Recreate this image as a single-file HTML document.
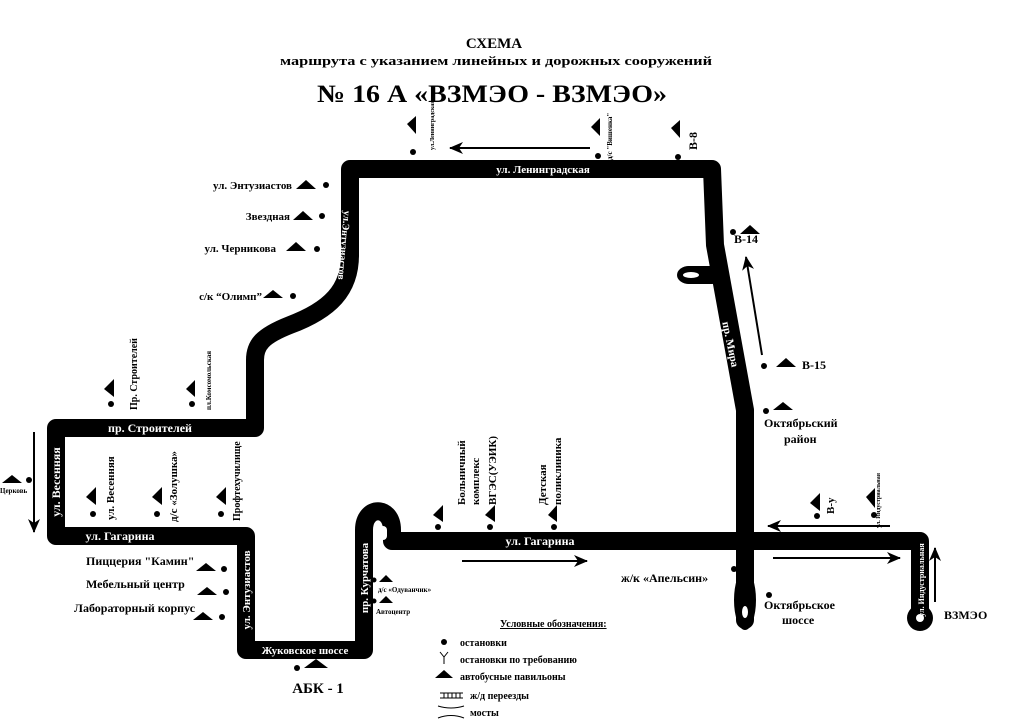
<!DOCTYPE html>
<html><head><meta charset="utf-8"><style>
html,body{margin:0;padding:0;background:#fff;}
svg{display:block;}
text{font-family:"Liberation Serif",serif;font-weight:bold;}
</style></head><body>
<svg width="1024" height="724" viewBox="0 0 1024 724" xmlns="http://www.w3.org/2000/svg" font-size="12">
<defs>
<marker id="ah2" markerWidth="14" markerHeight="12" refX="13" refY="6" orient="auto" markerUnits="userSpaceOnUse"><path d="M0,0 L14,6 L0,12 L4,6 Z" fill="#000"/></marker>
</defs>
<text x="494" y="48" font-size="15" text-anchor="middle">СХЕМА</text>
<text x="496" y="65" font-size="13" text-anchor="middle" textLength="432" lengthAdjust="spacingAndGlyphs">маршрута с указанием линейных и дорожных сооружений</text>
<text x="492" y="102" font-size="25" text-anchor="middle" textLength="350" lengthAdjust="spacingAndGlyphs">№ 16 А «ВЗМЭО - ВЗМЭО»</text>

<g fill="none" stroke="#000" stroke-width="18" stroke-linejoin="round" stroke-linecap="round">
<path d="M350,255 L350,169 L712,169 L715,245 L745,410 L745,620"/>
<path d="M350,255 C350,290 330,310 290,325 C262,336 255,345 255,360 L255,428 L56,428 L56,536 L246,536 L246,650 L364,650 L364,530 C364,505 392,505 392,530 L392,541 L920,541 L920,612"/>
<path d="M712,275 L690,275"/>
</g>
<ellipse cx="689" cy="275" rx="12" ry="9" fill="#000"/>
<ellipse cx="691" cy="275" rx="8" ry="3" fill="#fff"/>
<rect x="379" y="526" width="8" height="14" rx="4" fill="#fff"/>
<ellipse cx="745" cy="600" rx="11" ry="30" fill="#000"/>
<ellipse cx="745" cy="612" rx="3" ry="6" fill="#fff"/>
<circle cx="920" cy="618" r="13" fill="#000"/>
<circle cx="920" cy="618" r="4" fill="#fff"/>

<g fill="#fff">
<text x="543" y="173" text-anchor="middle" font-size="11">ул. Ленинградская</text>
<text x="150" y="432" text-anchor="middle">пр. Строителей</text>
<text x="120" y="540" text-anchor="middle">ул. Гагарина</text>
<text x="540" y="545" text-anchor="middle">ул. Гагарина</text>
<text x="305" y="654" text-anchor="middle" font-size="11">Жуковское шоссе</text>
<text transform="translate(60,482) rotate(-90)" text-anchor="middle">ул. Весенняя</text>
<text transform="translate(250,590) rotate(-90)" text-anchor="middle" font-size="11">ул. Энтузиастов</text>
<text transform="translate(368,578) rotate(-90)" text-anchor="middle" font-size="11">пр. Курчатова</text>
<text transform="translate(341,245) rotate(95)" text-anchor="middle" font-size="10">ул.Энтузиастов</text>
<text transform="translate(727,345) rotate(78)" text-anchor="middle" font-size="11">пр. Мира</text>
<text transform="translate(924,580) rotate(-90)" text-anchor="middle" font-size="8">ул. Индустриальная</text>
</g>

<g stroke="#000" stroke-width="2" fill="none">
<line x1="590" y1="148" x2="450" y2="148" marker-end="url(#ah2)"/>
<line x1="762" y1="355" x2="746" y2="257" marker-end="url(#ah2)"/>
<line x1="462" y1="561" x2="587" y2="561" marker-end="url(#ah2)"/>
<line x1="890" y1="526" x2="768" y2="526" marker-end="url(#ah2)"/>
<line x1="773" y1="558" x2="900" y2="558" marker-end="url(#ah2)"/>
<line x1="935" y1="602" x2="935" y2="548" marker-end="url(#ah2)"/>
<line x1="34" y1="432" x2="34" y2="532" marker-end="url(#ah2)"/>
</g>

<g fill="#000">
<circle cx="413" cy="152" r="3"/><path d="M407,124 L416,116 L416,134 Z"/>
<circle cx="598" cy="156" r="3"/><path d="M591,127 L600,118 L600,136 Z"/>
<circle cx="678" cy="157" r="3"/><path d="M671,128 L680,120 L680,138 Z"/>
<path d="M296,189 L306,180 L316,189 Z"/><circle cx="326" cy="185" r="3"/>
<path d="M293,220 L303,211 L313,220 Z"/><circle cx="322" cy="216" r="3"/>
<path d="M286,251 L296,242 L306,251 Z"/><circle cx="317" cy="249" r="3"/>
<path d="M263,298 L273,290 L283,298 Z"/><circle cx="293" cy="296" r="3"/>
<path d="M104,389 L114,379 L114,397 Z"/><circle cx="111" cy="404" r="3"/>
<path d="M186,389 L195,380 L195,397 Z"/><circle cx="192" cy="404" r="3"/>
<path d="M86,497 L96,487 L96,505 Z"/><circle cx="93" cy="514" r="3"/>
<path d="M152,497 L162,487 L162,505 Z"/><circle cx="157" cy="514" r="3"/>
<path d="M216,497 L226,487 L226,505 Z"/><circle cx="221" cy="514" r="3"/>
<path d="M2,483 L12,475 L22,483 Z"/><circle cx="29" cy="480" r="3"/>
<path d="M196,571 L206,563 L216,571 Z"/><circle cx="224" cy="569" r="3"/>
<path d="M197,595 L207,587 L217,595 Z"/><circle cx="226" cy="592" r="3"/>
<path d="M193,620 L203,612 L213,620 Z"/><circle cx="222" cy="617" r="3"/>
<circle cx="297" cy="668" r="3"/><path d="M304,668 L316,659 L328,668 Z"/>
<circle cx="374" cy="580" r="2.5"/><path d="M379,582 L386,575 L393,582 Z"/>
<circle cx="374" cy="601" r="2.5"/><path d="M379,603 L386,596 L393,603 Z"/>
<path d="M433,515 L443,505 L443,522 Z"/><circle cx="438" cy="527" r="3"/>
<path d="M485,515 L495,505 L495,522 Z"/><circle cx="490" cy="527" r="3"/>
<path d="M548,515 L557,505 L557,522 Z"/><circle cx="554" cy="527" r="3"/>
<circle cx="733" cy="232" r="3"/><path d="M740,234 L750,225 L760,234 Z"/>
<circle cx="764" cy="366" r="3"/><path d="M776,367 L786,358 L796,367 Z"/>
<circle cx="766" cy="411" r="3"/><path d="M773,410 L783,402 L793,410 Z"/>
<path d="M810,503 L820,493 L820,511 Z"/><circle cx="817" cy="516" r="3"/>
<path d="M866,497 L875,488 L875,508 Z"/><circle cx="874" cy="515" r="3"/>
<circle cx="734" cy="569" r="3"/>
<circle cx="769" cy="595" r="3"/>
</g>

<text transform="translate(434,150) rotate(-90)" font-size="6">ул.Ленинградская</text>
<text transform="translate(612,160) rotate(-90)" font-size="7">д/с "Вишенка"</text>
<text transform="translate(697,150) rotate(-90)">В-8</text>
<text x="292" y="189" text-anchor="end" font-size="11">ул. Энтузиастов</text>
<text x="290" y="220" text-anchor="end" font-size="11">Звездная</text>
<text x="276" y="252" text-anchor="end" font-size="11">ул. Черникова</text>
<text x="262" y="300" text-anchor="end" font-size="11">с/к “Олимп”</text>
<text transform="translate(137,410) rotate(-90)" font-size="10">Пр. Строителей</text>
<text transform="translate(211,410) rotate(-90)" font-size="7">пл.Комсомольская</text>
<text transform="translate(114,520) rotate(-90)" font-size="11">ул. Весенняя</text>
<text transform="translate(177,522) rotate(-90)" font-size="11">д/с «Золушка»</text>
<text transform="translate(240,521) rotate(-90)" font-size="10">Профтехучилище</text>
<text x="0" y="493" font-size="7">Церковь</text>
<text x="86" y="565" font-size="12">Пиццерия "Камин"</text>
<text x="86" y="588" font-size="12">Мебельный центр</text>
<text x="74" y="612" font-size="12">Лабораторный корпус</text>
<text x="318" y="693" text-anchor="middle" font-size="15">АБК - 1</text>
<text x="378" y="592" font-size="7">д/с «Одуванчик»</text>
<text x="376" y="614" font-size="7">Автоцентр</text>
<text transform="translate(465,505) rotate(-90)" font-size="11">Больничный</text>
<text transform="translate(479,505) rotate(-90)" font-size="11">комплекс</text>
<text transform="translate(496,505) rotate(-90)" font-size="11">ВГЭС(УЭИК)</text>
<text transform="translate(546,505) rotate(-90)" font-size="11">Детская</text>
<text transform="translate(561,505) rotate(-90)" font-size="11">поликлиника</text>
<text x="734" y="243" font-size="12">В-14</text>
<text x="802" y="369" font-size="12">В-15</text>
<text x="764" y="427" font-size="12">Октябрьский</text>
<text x="784" y="443" font-size="12">район</text>
<text transform="translate(834,514) rotate(-90)" font-size="11">В-у</text>
<text transform="translate(880,528) rotate(-90)" font-size="6">ул. Индустриальная</text>
<text x="621" y="582" font-size="12">ж/к «Апельсин»</text>
<text x="764" y="609" font-size="12">Октябрьское</text>
<text x="782" y="624" font-size="12">шоссе</text>
<text x="944" y="619" font-size="12">ВЗМЭО</text>

<text x="500" y="627" font-size="10" text-decoration="underline">Условные обозначения:</text>
<circle cx="444" cy="642" r="3" fill="#000"/>
<text x="460" y="646" font-size="10">остановки</text>
<path d="M440,652 L444,657 L448,652 M444,657 L444,664" stroke="#000" stroke-width="1" fill="none"/>
<text x="460" y="663" font-size="10">остановки по требованию</text>
<path d="M435,678 L444,670 L453,678 Z" fill="#000"/>
<text x="460" y="680" font-size="10">автобусные павильоны</text>
<path d="M440,693 L463,693 M440,698 L463,698 M444,693 L444,698 M448,693 L448,698 M452,693 L452,698 M456,693 L456,698 M460,693 L460,698" stroke="#000" stroke-width="1" fill="none"/>
<text x="470" y="699" font-size="10">ж/д переезды</text>
<path d="M438,706 Q451,710 464,706 M438,718 Q451,713 464,718" stroke="#000" stroke-width="1" fill="none"/>
<text x="470" y="716" font-size="10">мосты</text>
</svg>
</body></html>
